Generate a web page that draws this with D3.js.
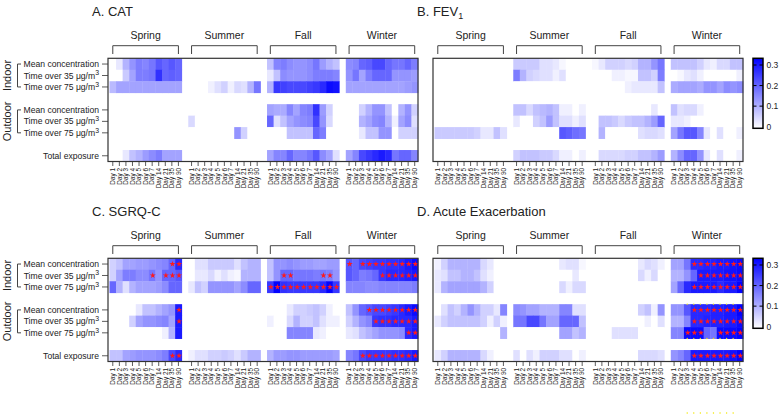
<!DOCTYPE html>
<html>
<head>
<meta charset="utf-8">
<script src="https://cdn.jsdelivr.net/npm/d3@7"></script>
<style>
  body { margin: 0; background: #fff; }
  text { font-family: "Liberation Sans", Arial, sans-serif; fill: #222; }
</style>
</head>
<body>
<svg id="chart" width="780" height="415"></svg>
<script>
// Categories
const seasons = ["Spring", "Summer", "Fall", "Winter"];
const days = ["Day 1", "Day 2", "Day 3", "Day 4", "Day 5", "Day 6", "Day 7", "Day 14", "Day 21", "Day 35", "Day 90"];
const exposureRows = ["Mean concentration", "Time over 35 μg/m^3", "Time over 75 μg/m^3",
                      "Mean concentration", "Time over 35 μg/m^3", "Time over 75 μg/m^3", "Total exposure"];
const rowGroups = [{ name: "Indoor", from: 0, to: 2 }, { name: "Outdoor", from: 3, to: 5 }];
const legendTicks = [0, 0.1, 0.2, 0.3];

// Values per row: Spring (11) | Summer (11) | Fall (11) | Winter (11)
const catValues = [
  [0,0.03,0.10,0.14,0.17,0.16,0.18,0.22,0.20,0.22,0.20, 0,0,0,0,0,0,0,0,0,0,0, 0.08,0.16,0.17,0.15,0.14,0.14,0.15,0.18,0.13,0.10,0.08, 0.15,0.16,0.20,0.21,0.24,0.24,0.20,0.18,0.18,0.20,0.17],
  [0,0,0.07,0.12,0.17,0.17,0.18,0.27,0.20,0.21,0.20, 0,0,0,0,0,0,0,0,0,0,0, 0.03,0.08,0.15,0.14,0.14,0.14,0.15,0.17,0.17,0.17,0.16, 0.14,0.18,0.12,0.17,0.20,0.20,0.20,0.14,0.14,0.14,0.13],
  [0.09,0.12,0.12,0.12,0.12,0.12,0.12,0.12,0.12,0.12,0.12, 0,0,0,0.02,0.04,0.06,0.02,0.05,0.04,0.10,0.18, 0.10,0.26,0.25,0.24,0.24,0.24,0.25,0.26,0.28,0.32,0.31, 0.12,0.12,0.12,0.12,0.12,0.12,0.12,0.12,0.12,0.13,0.14],
  [0,0,0,0,0,0,0,0,0,0,0, 0,0,0,0,0,0,0,0,0,0,0, 0.12,0.11,0.11,0.16,0.12,0.16,0.17,0.27,0.13,0.06,0, 0,0,0.06,0.10,0.14,0.14,0.08,0,0.10,0.14,0.06],
  [0,0,0,0,0,0,0,0,0,0,0, 0.05,0,0,0,0,0,0,0,0,0,0, 0.20,0.04,0.08,0.12,0.14,0.15,0.16,0.24,0.14,0.05,0, 0,0,0.10,0.12,0.15,0.16,0.10,0.02,0.12,0.15,0.04],
  [0,0,0,0,0,0,0,0,0,0,0, 0,0,0,0,0,0,0,0.14,0.06,0,0, 0,0,0,0.08,0.08,0.08,0.08,0.20,0.17,0,0, 0,0,0.03,0.08,0.08,0.14,0.14,0,0.06,0.06,0.06],
  [0,0,0.03,0.08,0.10,0.13,0.15,0.17,0.12,0.12,0.12, 0,0,0,0,0,0,0,0,0,0,0, 0.12,0.16,0.16,0.20,0.16,0.16,0.18,0.22,0.15,0.12,0.04, 0.12,0.16,0.24,0.26,0.28,0.30,0.28,0.18,0.20,0.20,0.16]
];

const fevValues = [
  [0,0,0,0,0,0,0,0,0,0,0, 0.07,0.07,0.07,0.07,0.04,0.04,0.03,0.01,0,0,0, 0.01,0.03,0.06,0.06,0.06,0.05,0.06,0.10,0.10,0.14,0.18, 0.08,0.08,0.08,0.08,0.06,0.03,0.02,0.05,0.05,0.08,0.08],
  [0,0,0,0,0,0,0,0,0,0,0, 0.17,0.10,0.06,0.05,0.04,0.04,0.02,0.04,0,0,0, 0,0,0,0.02,0.02,0.01,0.01,0.08,0.08,0.06,0.17, 0,0.01,0.03,0.04,0.02,0,0,0,0,0,0.02],
  [0,0,0,0,0,0,0,0,0,0,0, 0,0,0,0,0,0,0,0,0,0,0, 0,0,0,0,0,0.02,0.03,0.03,0.03,0.03,0.08, 0.11,0.12,0.12,0.12,0.11,0.14,0.14,0.12,0.15,0.14,0.15],
  [0,0,0,0,0,0,0,0,0,0,0, 0.08,0.08,0.05,0.08,0.09,0.10,0.08,0.02,0.02,0,0.02, 0,0,0,0,0,0,0,0,0,0.03,0, 0.08,0.04,0.05,0.05,0.02,0,0,0,0,0,0],
  [0,0,0,0,0,0,0,0,0,0,0, 0.03,0,0,0.06,0.08,0.13,0.08,0.04,0.04,0.02,0.04, 0,0.08,0.08,0.07,0.05,0.07,0.08,0.08,0.10,0.13,0.20, 0.03,0.03,0.02,0,0,0,0,0,0,0,0],
  [0.07,0.07,0.07,0.07,0.07,0.07,0.06,0.03,0.03,0.08,0.04, 0,0,0,0,0,0,0,0.22,0.21,0.19,0.18, 0,0.10,0,0,0,0,0,0.04,0.05,0.05,0.04, 0.12,0.18,0.22,0.22,0.16,0.03,0,0.04,0,0,0.02],
  [0,0,0,0,0,0,0,0,0,0,0, 0.06,0.08,0.08,0.08,0.07,0.07,0.05,0.02,0.02,0,0.02, 0,0.05,0.05,0.05,0.05,0.06,0.06,0.08,0.08,0.10,0.13, 0.10,0.15,0.20,0.20,0.14,0.03,0,0.04,0,0,0.02]
];

const sgrqValues = [
  [0.06,0.08,0.12,0.12,0.13,0.13,0.14,0.15,0.16,0.20,0.28, 0,0.04,0.04,0.07,0.07,0.07,0.07,0.04,0.08,0.10,0.10, 0.08,0.14,0.14,0.15,0.14,0.13,0.13,0.12,0.12,0.13,0.13, 0.22,0.20,0.24,0.25,0.26,0.26,0.27,0.27,0.28,0.30,0.32],
  [0.06,0.12,0.17,0.17,0.15,0.15,0.18,0.14,0.20,0.20,0.22, 0,0.03,0.03,0.05,0.02,0.04,0.02,0.01,0.10,0.10,0.10, 0.08,0.14,0.20,0.20,0.18,0.18,0.18,0.17,0.18,0.17,0.14, 0.22,0.20,0.17,0.18,0.20,0.26,0.28,0.28,0.28,0.29,0.30],
  [0.20,0.10,0.04,0.10,0.12,0.12,0.12,0.13,0.15,0.20,0.20, 0.03,0.08,0.06,0.14,0.14,0.14,0.14,0.12,0.15,0.20,0.20, 0.26,0.33,0.27,0.26,0.26,0.26,0.26,0.26,0.28,0.33,0.26, 0.16,0.16,0.16,0.15,0.15,0.16,0.16,0.16,0.16,0.16,0.17],
  [0,0,0,0,0.03,0.08,0.08,0.10,0.12,0.14,0.30, 0,0,0,0,0,0,0,0,0,0,0, 0,0,0,0.03,0.06,0.06,0.07,0.08,0.06,0.02,0, 0.08,0.14,0.20,0.22,0.24,0.24,0.25,0.26,0.28,0.30,0.32],
  [0,0,0,0.06,0.12,0.14,0.14,0.15,0.16,0.12,0.30, 0,0,0,0,0,0,0,0,0,0,0, 0.02,0,0,0.05,0.10,0.06,0.06,0.08,0.04,0.02,0.02, 0.06,0.10,0.14,0.16,0.26,0.27,0.27,0.28,0.28,0.28,0.30],
  [0,0,0,0,0,0,0,0,0.02,0.10,0.30, 0,0,0,0,0,0,0,0,0,0,0, 0,0,0,0.16,0.16,0.16,0.16,0.03,0.02,0,0, 0.03,0.04,0.08,0.10,0.12,0.14,0.14,0.14,0.15,0.28,0.30],
  [0.08,0.08,0.12,0.13,0.14,0.14,0.14,0.15,0.17,0.24,0.28, 0.02,0.04,0.04,0.06,0.06,0.07,0.06,0.04,0.07,0.10,0.10, 0.10,0.13,0.13,0.14,0.14,0.13,0.13,0.13,0.13,0.13,0.12, 0.16,0.18,0.24,0.26,0.26,0.26,0.26,0.27,0.27,0.28,0.30]
];

const aeValues = [
  [0.02,0.06,0.10,0.10,0.10,0.10,0.10,0.05,0.03,0,0, 0,0,0,0,0,0,0,0.03,0.04,0.04,0.01, 0,0,0,0,0,0,0,0.03,0.05,0.04,0.02, 0.12,0.12,0.18,0.28,0.28,0.29,0.29,0.30,0.30,0.31,0.32],
  [0.03,0.04,0.08,0.08,0.10,0.10,0.08,0.04,0.02,0,0, 0,0,0,0,0,0,0,0,0,0.03,0, 0,0,0,0,0,0,0,0.05,0.02,0.05,0, 0.10,0.10,0.14,0.20,0.30,0.30,0.30,0.30,0.31,0.31,0.32],
  [0.03,0.10,0.12,0.12,0.12,0.12,0.12,0.10,0.06,0,0, 0,0,0,0,0,0,0,0.05,0.02,0.05,0.05, 0,0,0,0,0,0,0,0,0,0,0, 0.12,0.20,0.28,0.30,0.30,0.30,0.30,0.28,0.30,0.30,0.33],
  [0,0.04,0.08,0.06,0.10,0.14,0.10,0.06,0.06,0.03,0.16, 0.15,0.14,0.12,0.12,0.10,0.10,0.10,0.16,0.16,0.04,0.04, 0,0,0,0,0,0,0,0.06,0.08,0.02,0.14, 0.14,0.14,0.22,0.28,0.28,0.28,0.29,0.29,0.30,0.30,0.33],
  [0.03,0.06,0.08,0.08,0.08,0.08,0.08,0.06,0.02,0.06,0.02, 0.18,0.18,0.24,0.24,0.18,0.12,0.12,0.20,0.20,0.20,0.08, 0,0,0,0,0,0,0,0,0.02,0,0.04, 0.10,0.10,0.16,0.28,0.28,0.29,0.29,0.29,0.30,0.30,0.32],
  [0,0,0,0,0,0,0,0,0,0,0.10, 0,0,0,0,0,0,0,0.12,0.12,0.08,0.10, 0,0,0,0.04,0.04,0.04,0.04,0,0,0,0, 0.16,0.16,0.32,0.32,0.32,0.20,0.18,0.32,0.32,0.32,0.33],
  [0.03,0.06,0.10,0.10,0.10,0.10,0.10,0.05,0.02,0,0, 0.04,0,0.04,0.02,0.06,0.06,0.06,0.04,0.04,0,0.02, 0,0,0,0,0,0,0,0.05,0.05,0.05,0.04, 0.14,0.16,0.20,0.30,0.30,0.30,0.30,0.30,0.30,0.31,0.33]
];

// Significance stars: [row, season, day indices]
const sgrqStars = [
  [0, "Spring", [9, 10]], [0, "Winter", [0, 2, 3, 4, 5, 6, 7, 8, 9, 10]],
  [1, "Spring", [6, 8, 9, 10]], [1, "Fall", [2, 3, 8, 9]], [1, "Winter", [5, 6, 7, 8, 9, 10]],
  [2, "Fall", [0, 1, 2, 3, 4, 5, 6, 7, 8, 9, 10]],
  [3, "Spring", [10]], [3, "Winter", [3, 4, 5, 6, 7, 8, 9, 10]],
  [4, "Spring", [10]], [4, "Winter", [4, 5, 6, 7, 8, 9, 10]],
  [5, "Winter", [9, 10]],
  [6, "Spring", [9, 10]], [6, "Winter", [2, 3, 4, 5, 6, 7, 8, 9, 10]]
];
const aeStars = [
  [0, "Winter", [3, 4, 5, 6, 7, 8, 9, 10]],
  [1, "Winter", [4, 5, 6, 7, 8, 9, 10]],
  [2, "Winter", [3, 4, 5, 6, 7, 8, 9, 10]],
  [3, "Winter", [3, 4, 5, 6, 7, 8, 9, 10]],
  [4, "Winter", [3, 4, 5, 6, 7, 8, 9, 10]],
  [5, "Winter", [2, 3, 4, 7, 8, 9, 10]],
  [6, "Winter", [3, 4, 5, 6, 7, 8, 9, 10]]
];
// stray yellow marks seen on the Winter block of panel D
const aeYellowDays = [2, 3, 4, 5, 6, 7, 8, 9];

const svg = d3.select("#chart");
const W = 310, H = 103.2;

const colKeys = [];
seasons.forEach((s, si) => {
  if (si > 0) colKeys.push("gap" + si);
  days.forEach(d => colKeys.push(s + "|" + d));
});
const rowKeys = ["r0", "r1", "r2", "g1", "r3", "r4", "r5", "g2", "r6"];

const color = d3.scaleLinear().domain([0, 0.334]).range(["#ffffff", "#0000ff"]).clamp(true);

// gradient for colour bars
const grad = svg.append("defs").append("linearGradient")
  .attr("id", "cbar").attr("x1", 0).attr("x2", 0).attr("y1", 1).attr("y2", 0);
d3.range(0, 1.01, 0.1).forEach(t => {
  grad.append("stop").attr("offset", t).attr("stop-color", color(t * 0.334));
});

// text helper for "μg/m^3" style labels
function supText(sel, str) {
  const parts = str.split("^");
  sel.append("tspan").text(parts[0]);
  if (parts[1]) sel.append("tspan").attr("dy", "-0.45em").attr("font-size", "0.8em").text(parts[1]);
}

function drawPanel(p) {
  const g = svg.append("g").attr("transform", `translate(${p.x},${p.y})`);
  const x = d3.scaleBand().domain(colKeys).range([1.5, W]);
  const y = d3.scaleBand().domain(rowKeys).range([0, H]);
  const bw = x.bandwidth(), bh = y.bandwidth();
  const cx = (s, di) => x(s + "|" + days[di]) + bw / 2;
  const cy = r => y("r" + r) + bh / 2;

  // title
  const title = g.append("text").attr("x", -16).attr("y", -42.3)
    .attr("font-size", 13).text(p.title);
  if (p.sub) title.append("tspan").attr("dy", 3).attr("font-size", 9).text(p.sub);

  // cells
  const cells = [];
  p.values.forEach((row, r) => row.forEach((v, c) => {
    cells.push({ r, s: seasons[Math.floor(c / 11)], d: days[c % 11], v });
  }));
  g.append("g").selectAll("rect").data(cells).join("rect")
    .attr("x", d => x(d.s + "|" + d.d))
    .attr("y", d => y("r" + d.r))
    .attr("width", bw + 0.4)
    .attr("height", bh + 0.4)
    .attr("fill", d => color(d.v));

  // stars
  if (p.stars) {
    const st = [];
    p.stars.forEach(([r, s, ds]) => ds.forEach(di => st.push({ r, s, di })));
    g.append("g").selectAll("path").data(st).join("path")
      .attr("d", d3.symbol(d3.symbolStar, 11))
      .attr("transform", d => `translate(${cx(d.s, d.di) + 0.6},${cy(d.r)})`)
      .attr("fill", "#ff1a1a");
  }

  // frame
  g.append("rect").attr("width", W).attr("height", H)
    .attr("fill", "none").attr("stroke", "#333").attr("stroke-width", 1.2);

  // season brackets
  seasons.forEach(s => {
    const x1 = cx(s, 0), x2 = cx(s, days.length - 1);
    g.append("path")
      .attr("d", `M${x1},-4.3V-12.6H${x2}V-4.3`)
      .attr("fill", "none").attr("stroke", "#444").attr("stroke-width", 1);
    g.append("text").attr("x", (x1 + x2) / 2).attr("y", -19.5)
      .attr("text-anchor", "middle").attr("font-size", 10.5).text(s);
  });

  // x ticks + rotated labels
  const xt = g.append("g").attr("transform", `translate(0,${H})`);
  seasons.forEach(s => days.forEach((d, di) => {
    const px = cx(s, di);
    xt.append("line").attr("x1", px).attr("x2", px).attr("y1", 0).attr("y2", 4.5)
      .attr("stroke", "#333").attr("stroke-width", 0.8);
    xt.append("text").attr("transform", `translate(${px},6.5) rotate(-90)`)
      .attr("text-anchor", "end").attr("dy", "0.35em").attr("font-size", 6.4).text(d);
  }));

  // row labels
  if (p.rowLabels) {
    exposureRows.forEach((lab, r) => {
      g.append("line").attr("x1", -6).attr("x2", 0).attr("y1", cy(r)).attr("y2", cy(r))
        .attr("stroke", "#333").attr("stroke-width", 0.8);
      const t = g.append("text").attr("x", -9).attr("y", cy(r)).attr("dy", "0.35em")
        .attr("text-anchor", "end").attr("font-size", 8.6);
      supText(t, lab);
    });
    rowGroups.forEach(gr => {
      const ya = cy(gr.from), yb = cy(gr.to);
      g.append("path").attr("d", `M${-p.x + 21},${ya}H${-p.x + 17.5}V${yb}H${-p.x + 21}`)
        .attr("fill", "none").attr("stroke", "#444").attr("stroke-width", 1);
      g.append("text").attr("transform", `translate(${-p.x + 10.5},${(ya + yb) / 2}) rotate(-90)`)
        .attr("text-anchor", "middle").attr("font-size", 11).text(gr.name);
    });
  }

  // colour bar
  if (p.colorbar) {
    const cb = g.append("g").attr("transform", `translate(${W + 10},0)`);
    const ly = d3.scaleLinear().domain([0, 0.3]).range([68.4, 6.7]);
    cb.append("rect").attr("width", 10).attr("height", 70)
      .attr("fill", "url(#cbar)").attr("stroke", "#000").attr("stroke-width", 1.5);
    legendTicks.forEach(t => {
      if (t > 0) {
        cb.append("line").attr("x1", 0).attr("x2", 3.5).attr("y1", ly(t)).attr("y2", ly(t)).attr("stroke", "#000");
        cb.append("line").attr("x1", 6.5).attr("x2", 10).attr("y1", ly(t)).attr("y2", ly(t)).attr("stroke", "#000");
      }
      cb.append("text").attr("x", 13.5).attr("y", ly(t)).attr("dy", "0.35em")
        .attr("font-size", 8.5).text(t);
    });
  }

  // stray yellow marks
  if (p.yellow) {
    const yy = [y("r3"), y("r5") + bh, H + 51.5];
    const pts = [];
    yy.forEach(v => p.yellow.forEach(di => pts.push([cx("Winter", di), v])));
    g.append("g").selectAll("circle").data(pts).join("circle")
      .attr("cx", d => d[0]).attr("cy", d => d[1]).attr("r", 0.7).attr("fill", "#f2e600");
  }
}

const panels = [
  { title: "A. CAT", values: catValues, x: 108, y: 58.3, rowLabels: true },
  { title: "B. FEV", sub: "1", values: fevValues, x: 433, y: 58.3, colorbar: true },
  { title: "C. SGRQ-C", values: sgrqValues, stars: sgrqStars, x: 108, y: 258.3, rowLabels: true },
  { title: "D. Acute Exacerbation", values: aeValues, stars: aeStars, x: 433, y: 258.3, colorbar: true, yellow: aeYellowDays }
];
panels.forEach(drawPanel);
</script>
</body>
</html>
